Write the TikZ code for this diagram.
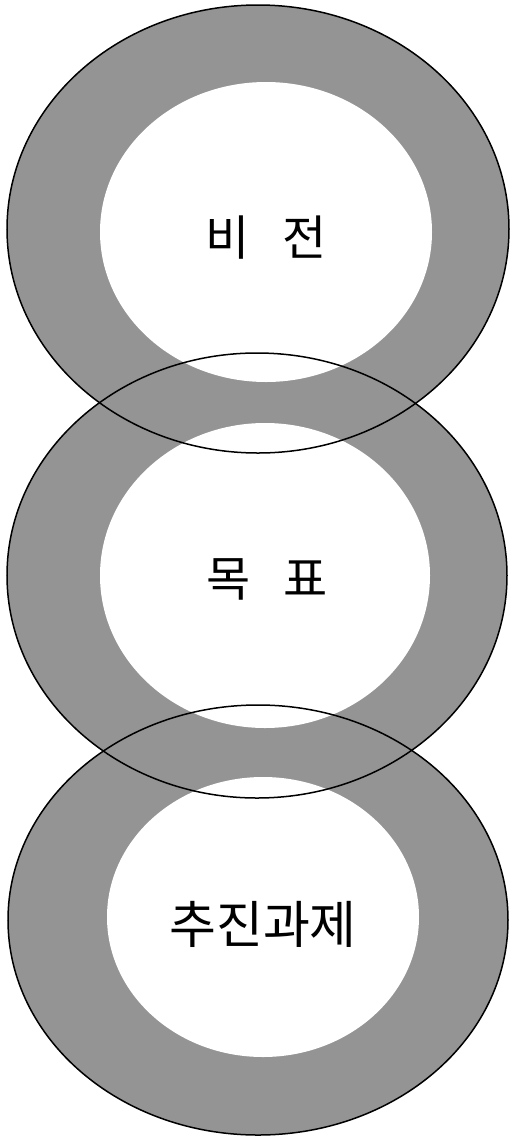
\documentclass[tikz,border=0pt]{standalone}
\usepackage{fontspec}
\newfontfamily\kr{Noto Sans CJK KR}
\definecolor{ringgray}{gray}{0.58}
\begin{document}
\begin{tikzpicture}[x=1pt,y=-1pt,
  band/.style={fill=ringgray},
  hole/.style={fill=white},
  rim/.style={draw=black,line width=1.5pt},
  ringlabel/.style={font=\kr\fontsize{48}{48}\selectfont, inner sep=0pt, anchor=base}]
\useasboundingbox (0,0) rectangle (510,1138);
% gray bands (outer ellipses)
\fill[band] (258,229) ellipse [x radius=251, y radius=224];
\fill[band] (257,575.5) ellipse [x radius=250, y radius=222.5];
\fill[band] (258,920) ellipse [x radius=250, y radius=215];
% white holes (inner ellipses)
\fill[hole] (266,232) ellipse [x radius=166, y radius=150];
\fill[hole] (265,575.5) ellipse [x radius=165, y radius=152.5];
\fill[hole] (263,917) ellipse [x radius=156, y radius=140];
% outer rims
\draw[rim] (258,229) ellipse [x radius=251, y radius=224];
\draw[rim] (257,575.5) ellipse [x radius=250, y radius=222.5];
\draw[rim] (258,920) ellipse [x radius=250, y radius=215];
% labels
\node[ringlabel] (vision) at (266,255) {비\hspace{33pt}전};
\node[ringlabel] (goal) at (267,596) {목\hspace{33pt}표};
\node[ringlabel, font=\kr\fontsize{51}{51}\selectfont] (tasks) at (263,943) {추진과제};
\end{tikzpicture}
\end{document}
